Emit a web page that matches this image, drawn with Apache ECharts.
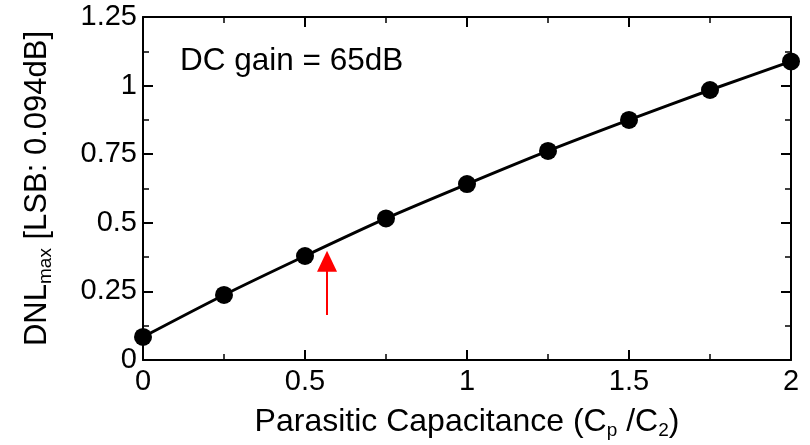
<!DOCTYPE html>
<html>
<head>
<meta charset="utf-8">
<script src="https://cdn.jsdelivr.net/npm/echarts@6/dist/echarts.min.js"></script>
<style>
  html, body { margin: 0; padding: 0; background: #fff; }
  #chart { width: 810px; height: 445px; }
</style>
</head>
<body>
<div id="chart"></div>
<script>
// values
const ratio = [0, 0.25, 0.5, 0.75, 1, 1.25, 1.5, 1.75, 2];
const dnlMax = [0.084, 0.237, 0.379, 0.516, 0.641, 0.762, 0.875, 0.984, 1.088];
// red arrow annotation: [x, yFrom, yTo]
const arrowAt = [0.568, 0.164, 0.36];

const font = 'Liberation Sans, Arial, sans-serif';
const chart = echarts.init(document.getElementById('chart'));

function axisBase(extra) {
  return Object.assign({
    type: 'value',
    axisLine: { show: true, onZero: false, lineStyle: { color: '#000', width: 2 } },
    axisTick: { show: true, inside: true, length: 10, lineStyle: { color: '#000', width: 2 } },
    minorTick: { show: true, splitNumber: 2, length: 6, lineStyle: { color: '#000', width: 1.5 } },
    splitLine: { show: false }
  }, extra);
}

function subRich(size) {
  return {
    n: { fontFamily: font, fontSize: size, color: '#000' },
    s: { fontFamily: font, fontSize: 19, color: '#000', verticalAlign: 'bottom', padding: [17, 0, 0, 0] }
  };
}

chart.setOption({
  animation: false,
  grid: { left: 143, right: 19, top: 17, bottom: 85 },
  title: {
    text: 'DC gain = 65dB',
    left: 175, top: 40,
    textStyle: { fontFamily: font, fontSize: 31.5, fontWeight: 'normal', color: '#000' }
  },
  xAxis: [
    axisBase({
      min: 0, max: 2, interval: 0.5,
      axisLabel: { color: '#000', fontFamily: font, fontSize: 29, margin: 7 },
      name: '{n|Parasitic Capacitance (C}{s|p}{n| /C}{s|2}{n|)}',
      nameLocation: 'middle', nameGap: 44,
      nameTextStyle: { rich: subRich(32) }
    }),
    axisBase({ position: 'top', min: 0, max: 2, interval: 0.5, axisLabel: { show: false } })
  ],
  yAxis: [
    axisBase({
      min: 0, max: 1.25, interval: 0.25,
      axisLabel: {
        color: '#000', fontFamily: font, fontSize: 29, margin: 6,
        formatter: v => String(Number(v.toFixed(2)))
      },
      name: '{n|DNL}{s|max}{n| [LSB: 0.094dB]}',
      nameLocation: 'middle', nameGap: 88, nameRotate: 90,
      nameTextStyle: { rich: subRich(31) }
    }),
    axisBase({ position: 'right', min: 0, max: 1.25, interval: 0.25, axisLabel: { show: false } })
  ],
  series: [{
    type: 'line',
    data: ratio.map((x, i) => [x, dnlMax[i]]),
    smooth: 0.3,
    symbol: 'circle',
    symbolSize: 18,
    itemStyle: { color: '#000' },
    lineStyle: { color: '#000', width: 3 },
    clip: false,
    markLine: {
      silent: true,
      symbol: ['none', 'triangle'],
      symbolSize: [20, 21],
      label: { show: false },
      lineStyle: { color: '#ff0000', width: 2, type: 'solid' },
      data: [[
        { coord: [arrowAt[0], arrowAt[1]] },
        { coord: [arrowAt[0], arrowAt[2]] }
      ]]
    }
  }]
});
</script>
</body>
</html>
